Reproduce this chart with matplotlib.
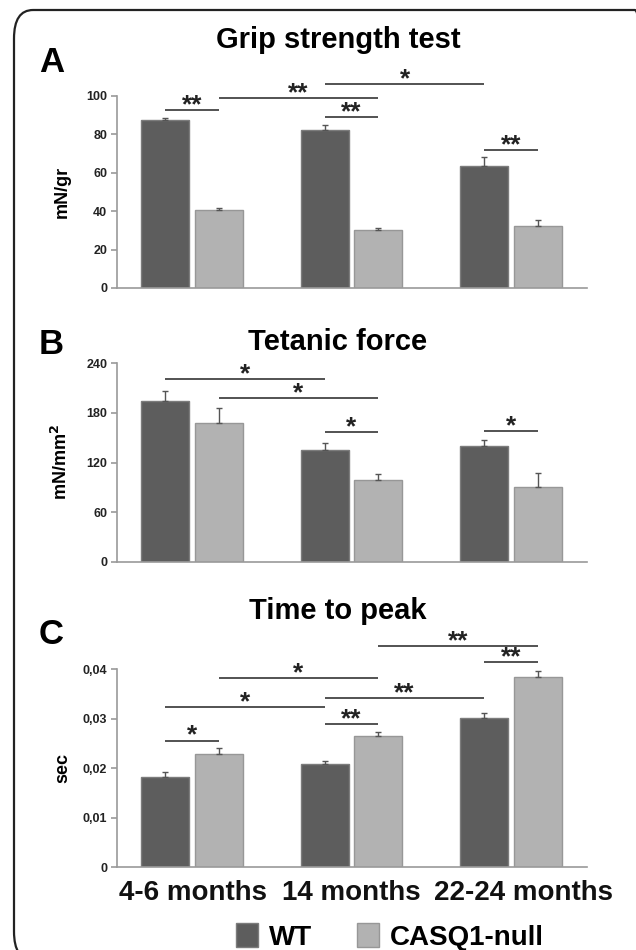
import matplotlib
matplotlib.use("Agg")
import matplotlib.pyplot as plt
from matplotlib.patches import FancyBboxPatch, Patch
import matplotlib.transforms as mtransforms
import numpy as np

plt.rcParams['font.family'] = ['Liberation Sans', 'DejaVu Sans']
plt.rcParams['font.weight'] = 'bold'

groups = ["4-6 months", "14 months", "22-24 months"]
series = ["WT", "CASQ1-null"]

grip_wt = [87.5, 82.3, 63.5]
grip_wt_err = [1.2, 2.8, 4.5]
grip_ko = [40.5, 30.2, 32.3]
grip_ko_err = [1.0, 1.3, 3.3]

tet_wt = [194, 135, 139.5]
tet_wt_err = [13, 9, 8]
tet_ko = [168, 98.5, 90.5]
tet_ko_err = [18, 7, 17]

ttp_wt = [0.0183, 0.0209, 0.0302]
ttp_wt_err = [0.0010, 0.0006, 0.0010]
ttp_ko = [0.0229, 0.0265, 0.0385]
ttp_ko_err = [0.0013, 0.0008, 0.0012]

grip_ticks = [0, 20, 40, 60, 80, 100]
tet_ticks = [0, 60, 120, 180, 240]
ttp_ticks = [0, 0.01, 0.02, 0.03, 0.04]
ttp_ticklabels = ["0", "0,01", "0,02", "0,03", "0,04"]

# significance bars: (bar_i, bar_j, y, label); bars 0..5 = g0 WT, g0 KO, g1 WT, ...
grip_sig = [(0, 1, 92.7, "**"), (1, 3, 99.0, "**"), (2, 4, 106.0, "*"),
            (2, 3, 89.0, "**"), (4, 5, 71.8, "**")]
tet_sig = [(0, 2, 221, "*"), (1, 3, 198, "*"), (2, 3, 157, "*"), (4, 5, 158, "*")]
ttp_sig = [(0, 1, 0.0256, "*"), (0, 2, 0.0324, "*"), (1, 3, 0.0382, "*"),
           (2, 3, 0.0290, "**"), (2, 4, 0.0342, "**"), (3, 5, 0.0447, "**"),
           (4, 5, 0.0414, "**")]

W, H = 636, 950
fig = plt.figure(figsize=(W / 100, H / 100), dpi=100)

# rounded frame
frame = FancyBboxPatch((14 / W, 1 - 960 / H), 640 / W, 950 / H,
                       boxstyle="round,pad=0,rounding_size=0.03",
                       transform=fig.transFigure, fill=False,
                       edgecolor="#222222", linewidth=1.6, clip_on=False)
fig.patches.append(frame)

wt_color = "#5d5d5d"
ko_color = "#b2b2b2"
off = 0.167
bw = 0.30
x = np.arange(len(groups))
bar_pos = []
for g in x:
    bar_pos += [g - off, g + off]


def panel(rect, wt, wte, ko, koe, ticks, ticklabels, ylabel, sig, ymax):
    ax = fig.add_axes(rect)
    ax.bar(x - off, wt, bw, color=wt_color, edgecolor="#7c7c7c", linewidth=1.0,
           yerr=[np.zeros(3), wte],
           error_kw=dict(ecolor="#555555", elinewidth=1.0, capsize=2, capthick=1.0))
    ax.bar(x + off, ko, bw, color=ko_color, edgecolor="#979797", linewidth=1.0,
           yerr=[np.zeros(3), koe],
           error_kw=dict(ecolor="#555555", elinewidth=1.0, capsize=2, capthick=1.0))
    ax.set_xlim(-0.47, 2.476)
    ax.set_ylim(0, ymax)
    ax.set_yticks(ticks)
    ax.set_yticklabels(ticklabels, fontsize=9, fontweight='bold', color="#222222")
    ax.set_xticks([])
    for s in ["top", "right"]:
        ax.spines[s].set_visible(False)
    for s in ["left", "bottom"]:
        ax.spines[s].set_color("#9a9a9a")
        ax.spines[s].set_linewidth(1.2)
    ax.tick_params(axis='y', length=4, width=1.2, color="#9a9a9a", pad=3)
    ax.set_ylabel(ylabel, fontsize=13, fontweight='bold')
    ax.yaxis.set_label_coords((71 - 117) / 470, 0.5)
    for i, j, y, lab in sig:
        ax.plot([bar_pos[i], bar_pos[j]], [y, y], color="#444444", lw=1.3,
                clip_on=False, solid_capstyle='butt')
        ax.annotate(lab, xy=((bar_pos[i] + bar_pos[j]) / 2, y),
                    xytext=(0, -1.5), textcoords='offset points',
                    ha='center', va='baseline', fontsize=19, fontweight='bold',
                    color="#222222", annotation_clip=False)
    return ax


axA = panel([117 / W, 1 - 288 / H, 470 / W, 192 / H], grip_wt, grip_wt_err,
            grip_ko, grip_ko_err, grip_ticks, [str(t) for t in grip_ticks],
            "mN/gr", grip_sig, 100)
axB = panel([117 / W, 1 - 561.7 / H, 470 / W, 198.4 / H], tet_wt, tet_wt_err,
            tet_ko, tet_ko_err, tet_ticks, [str(t) for t in tet_ticks],
            "mN/mm$^\\mathbf{2}$", tet_sig, 240)
axC = panel([117 / W, 1 - 867.3 / H, 470 / W, 198 / H], ttp_wt, ttp_wt_err,
            ttp_ko, ttp_ko_err, ttp_ticks, ttp_ticklabels,
            "sec", ttp_sig, 0.04)

axC.set_xticks(x)
axC.set_xticklabels(groups, fontsize=20, fontweight='bold', color="#111111")
axC.tick_params(axis='x', length=0, pad=9)
shifts = [1, 0, 12]
for lbl, s in zip(axC.get_xticklabels(), shifts):
    lbl.set_transform(lbl.get_transform() +
                      mtransforms.ScaledTranslation(s / 100, 0, fig.dpi_scale_trans))

# titles and panel letters
fig.text(338 / W, 1 - 40 / H, "Grip strength test", ha='center', va='center',
         fontsize=21, fontweight='bold')
fig.text(338 / W, 1 - 342 / H, "Tetanic force", ha='center', va='center',
         fontsize=21, fontweight='bold')
fig.text(338 / W, 1 - 611 / H, "Time to peak", ha='center', va='center',
         fontsize=21, fontweight='bold')
fig.text(39 / W, 1 - 63 / H, "A", ha='left', va='center', fontsize=25, fontweight='bold')
fig.text(39 / W, 1 - 345 / H, "B", ha='left', va='center', fontsize=25, fontweight='bold')
fig.text(39 / W, 1 - 634 / H, "C", ha='left', va='center', fontsize=25, fontweight='bold')

handles = [Patch(facecolor=wt_color, edgecolor="#7c7c7c"),
           Patch(facecolor=ko_color, edgecolor="#979797")]
fig.legend(handles, series, loc='center', bbox_to_anchor=(390 / W, 1 - 937 / H),
           ncol=2, frameon=False, prop=dict(size=20, weight='bold'),
           handlelength=0.8, handleheight=0.9, handletextpad=0.4, columnspacing=1.6,
           borderpad=0.1)

fig.savefig("out.png", dpi=100)
